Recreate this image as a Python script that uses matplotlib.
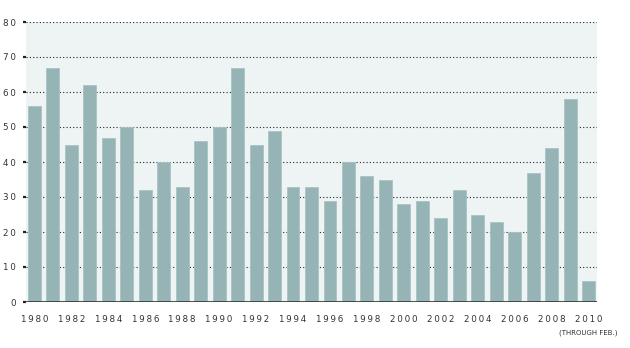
import numpy as np
import matplotlib
matplotlib.use("Agg")
from matplotlib import pyplot as plt

# dados
anos = list(range(1980, 2011))
valores = [56, 67, 45, 62, 47, 50, 32, 40, 33, 46, 50, 67, 45, 49, 33, 33,
           29, 40, 36, 35, 28, 29, 24, 32, 25, 23, 20, 37, 44, 58, 6]
rotulos_x = [str(a) if a % 2 == 0 else "" for a in anos]
ticks_y = [0, 10, 20, 30, 40, 50, 60, 70, 80]

cor_barra = "#96b4b5"
cor_fundo = "#eef4f4"
cor_texto = "#333333"

# espacamento entre letras (fonte larga do original)
esp = "\u2009"
def largo(s):
    return esp.join(s)

fig = plt.figure(figsize=(6.3, 3.48), dpi=100)
ax = fig.add_axes([26 / 630, 46 / 348, 571 / 630, 280 / 348])
ax.set_facecolor(cor_fundo)

x = np.arange(len(anos))
ax.bar(x, valores, width=0.7, color=cor_barra, edgecolor="#a9c3c4",
       linewidth=0.6, zorder=3)

# grade pontilhada
for v in ticks_y[1:]:
    ax.axhline(v, color="#222222", linestyle=(0, (1, 2)), linewidth=0.8, zorder=1)
ax.axhline(0, color="#333333", linewidth=1.2, zorder=4)

ax.set_xlim(-0.46, len(anos) - 0.54)
ax.set_ylim(0, 80)
ax.set_yticks(ticks_y)
ax.set_yticklabels([largo(str(v)) for v in ticks_y], fontsize=6.3, color=cor_texto)
ax.set_xticks(x)
ax.set_xticklabels([largo(r) for r in rotulos_x], fontsize=6.3, color=cor_texto)
ax.tick_params(axis="y", length=2, width=1.6, color="#222222", pad=5)
ax.tick_params(axis="x", length=0, pad=9)

for s in ax.spines.values():
    s.set_visible(False)

ax.text(len(anos) - 1, -0.098, "(THROUGH FEB.)", transform=ax.get_xaxis_transform(),
        ha="center", va="top", fontsize=5, color=cor_texto)

fig.savefig("out.png", dpi=100)
